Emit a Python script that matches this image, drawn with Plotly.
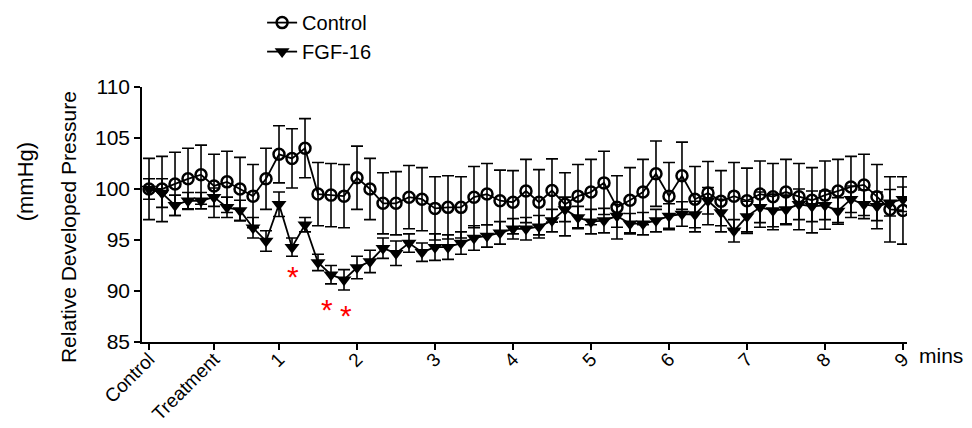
import plotly.graph_objects as go

# x positions: one point every 10 s; index units (Control=0, Treatment=5, 1 min=10, then 6 per minute)
x_idx = list(range(59))

control = [100.0, 100.0, 100.5, 101.0, 101.4, 100.3, 100.7, 100.0, 99.3, 101.0,
           103.4, 103.0, 104.0, 99.5, 99.4, 99.3, 101.1, 100.0, 98.6, 98.6,
           99.2, 99.0, 98.1, 98.2, 98.2, 99.2, 99.5, 98.85, 98.7, 99.8,
           98.7, 99.85, 98.5, 99.3, 99.7, 100.6, 98.2, 98.9, 99.7, 101.5,
           99.3, 101.3, 99.0, 99.6, 98.8, 99.3, 98.85, 99.5, 99.25, 99.7,
           99.25, 98.9, 99.4, 99.8, 100.2, 100.4, 99.25, 98.0, 97.9]
control_err = [3.0, 3.2, 3.1, 3.0, 2.9, 3.1, 3.0, 3.1, 3.1, 3.0,
               2.8, 2.9, 2.9, 3.1, 3.1, 3.1, 3.1, 3.0, 3.0, 3.1,
               3.1, 3.1, 3.1, 3.1, 3.0, 3.0, 3.0, 3.0, 3.1, 3.1,
               3.2, 3.1, 3.1, 3.1, 3.2, 3.1, 3.1, 3.2, 3.2, 3.2,
               3.3, 3.3, 3.2, 3.1, 3.0, 3.3, 3.2, 3.25, 3.25, 3.2,
               3.25, 3.2, 3.35, 3.1, 3.0, 3.0, 3.15, 3.2, 3.3]
fgf16 = [100.0, 99.6, 98.4, 98.85, 98.85, 99.2, 98.2, 97.9, 96.2, 94.9,
         98.5, 94.3, 96.5, 92.8, 91.6, 91.1, 92.3, 92.9, 94.2, 93.7,
         94.7, 93.8, 94.3, 94.3, 94.7, 95.2, 95.4, 95.7, 96.1, 96.1,
         96.3, 96.9, 98.0, 97.2, 96.8, 96.9, 97.35, 96.6, 96.6, 96.9,
         97.35, 97.55, 97.5, 98.85, 97.7, 95.9, 97.3, 98.2, 97.9, 98.0,
         98.5, 98.3, 98.4, 97.85, 99.0, 98.5, 98.3, 98.65, 99.0]
fgf16_err = [1.0, 1.4, 1.0, 0.8, 0.8, 0.9, 1.0, 1.0, 1.0, 1.0,
             1.2, 0.9, 0.7, 0.8, 0.9, 1.0, 1.1, 1.1, 1.0, 1.2,
             0.9, 0.9, 1.3, 1.2, 1.1, 1.2, 1.1, 1.1, 1.0, 1.1,
             1.1, 1.1, 1.2, 1.1, 1.2, 1.2, 1.1, 1.0, 1.1, 1.1,
             1.2, 1.2, 1.3, 1.3, 1.3, 1.1, 1.5, 1.5, 1.6, 1.4,
             1.5, 1.5, 1.4, 1.3, 1.3, 1.4, 1.4, 1.3, 1.2]

tick_vals = [0, 5, 10, 16, 22, 28, 34, 40, 46, 52, 58]
tick_text = ["Control", "Treatment", "1", "2", "3", "4", "5", "6", "7", "8", "9"]

star_x = [11.05, 13.7, 15.15]
star_y = [91.67, 88.46, 87.87]

FONT = "Liberation Sans, Arial, sans-serif"

fig = go.Figure()
fig.add_trace(go.Scatter(
    x=x_idx, y=control, name="Control", mode="lines+markers",
    line=dict(color="black", width=1.8),
    marker=dict(symbol="circle-open", size=11, color="black", line=dict(width=2.5, color="black")),
    error_y=dict(type="data", array=control_err, visible=True, color="black", thickness=1.6, width=6),
))
fig.add_trace(go.Scatter(
    x=x_idx, y=fgf16, name="FGF-16", mode="lines+markers",
    line=dict(color="black", width=1.8),
    marker=dict(symbol="triangle-down", size=13, color="black"),
    error_y=dict(type="data", array=fgf16_err, visible=True, color="black", thickness=1.6, width=6),
))

annotations = []
for sx, sy in zip(star_x, star_y):
    annotations.append(dict(x=sx, y=sy, xref="x", yref="y", text="*", showarrow=False,
                            font=dict(family=FONT, size=30, color="red"), yshift=-3))
annotations.append(dict(x=1.013, y=-0.051, xref="paper", yref="paper", text="mins", showarrow=False,
                        xanchor="left", yanchor="middle", font=dict(family=FONT, size=21, color="black")))
annotations.append(dict(x=-0.097, y=0.45, xref="paper", yref="paper", text="Relative Developed Pressure",
                        showarrow=False, textangle=-90, xanchor="center", yanchor="middle",
                        font=dict(family=FONT, size=21, color="black")))
annotations.append(dict(x=-0.153, y=0.63, xref="paper", yref="paper", text="(mmHg)",
                        showarrow=False, textangle=-90, xanchor="center", yanchor="middle",
                        font=dict(family=FONT, size=22, color="black")))

fig.update_layout(
    width=972, height=428,
    margin=dict(l=142, r=65, t=87, b=86, autoexpand=False),
    paper_bgcolor="white", plot_bgcolor="white",
    font=dict(family=FONT, size=20, color="black"),
    showlegend=True,
    legend=dict(x=0.157, y=1.329, xanchor="left", yanchor="top", bgcolor="rgba(0,0,0,0)",
                font=dict(family=FONT, size=20, color="black"), tracegroupgap=0),
    annotations=annotations,
    xaxis=dict(range=[-0.54, 58.31], tickmode="array", tickvals=tick_vals, ticktext=tick_text,
               tickangle=-45, ticks="outside", ticklen=6, tickwidth=1.5, tickcolor="black",
               ticklabelstandoff=-9,
               showline=True, linecolor="black", linewidth=1.5, showgrid=False, zeroline=False,
               automargin=False, tickfont=dict(family=FONT, size=19, color="black")),
    yaxis=dict(range=[85, 110], tickmode="array", tickvals=[85, 90, 95, 100, 105, 110],
               ticks="outside", ticklen=6, tickwidth=1.5, tickcolor="black",
               showline=True, linecolor="black", linewidth=1.5, showgrid=False, zeroline=False,
               automargin=False, tickfont=dict(family=FONT, size=21, color="black")),
)

fig.write_html("out.html", config={"displayModeBar": False},
               post_script="document.body.style.margin='0px';document.body.style.padding='0px';")
